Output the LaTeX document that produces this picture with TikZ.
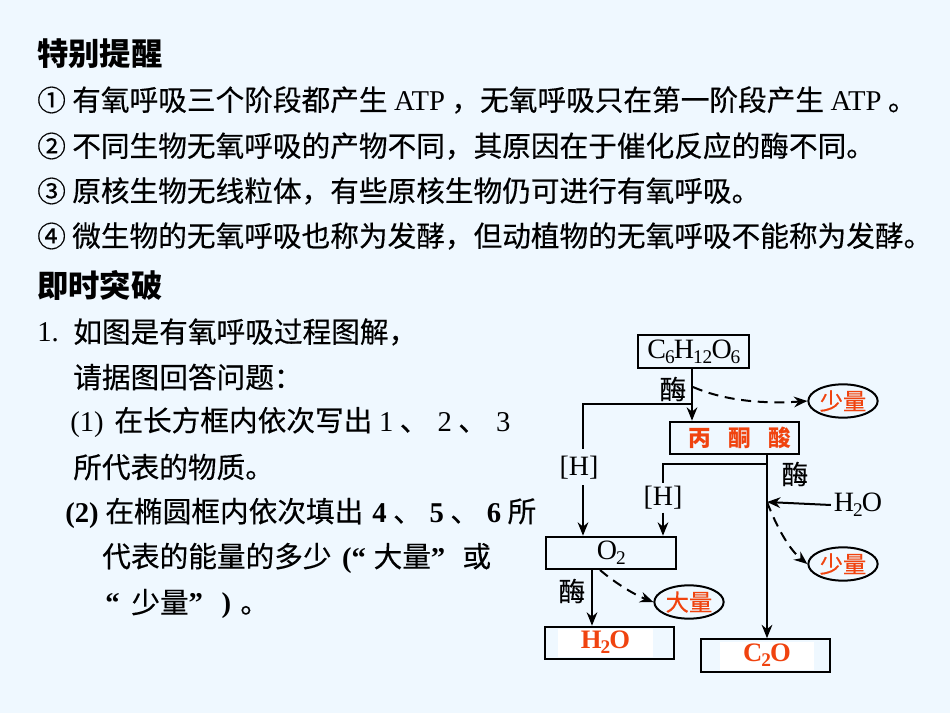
\documentclass[tikz,border=0pt]{standalone}
\usepackage{fontspec}
\usepackage{xcolor}
\setmainfont{Noto Sans CJK SC}
\newfontfamily\cjkbody[FakeBold=0.35]{Noto Sans CJK SC}
\newfontfamily\lat{Liberation Serif}
\usetikzlibrary{shapes,arrows,positioning,calc,arrows.meta}
\definecolor{bgblue}{HTML}{EFF8FF}
\definecolor{redorange}{HTML}{F0430F}
\newcommand{\lowidx}[1]{\kern-0.8pt\raisebox{-4pt}{\fontsize{14.5}{16}\selectfont #1}\kern-0.6pt}
\tikzset{
    headline/.style={anchor=west,inner sep=0pt,font=\fontsize{23.5}{28}\selectfont\bfseries},
    bodyline/.style={anchor=west,inner sep=0pt,font=\cjkbody\fontsize{21.5}{26}\selectfont},
    chembox/.style={draw,line width=1.5pt,minimum width=#1,minimum height=24.5pt,inner sep=0pt,font=\lat\fontsize{21}{24}\selectfont},
    chembox/.default=97pt,
    answer/.style={text=redorange,font=\fontsize{17}{20}\selectfont\bfseries},
    formula/.style={text=redorange,fill=white,minimum width=71pt,minimum height=21pt,inner sep=0pt,font=\lat\bfseries\fontsize{20}{24}\selectfont},
    energy/.style={draw,ellipse,line width=1.5pt,minimum width=52pt,minimum height=25pt,inner sep=0pt,text=redorange,font=\cjkbody\fontsize{17.5}{20}\selectfont},
    enzyme/.style={inner sep=0pt,font=\cjkbody\fontsize{20}{24}\selectfont},
    plain/.style={inner sep=2pt,font=\lat\fontsize{21}{24}\selectfont},
    flow/.style={line width=1.5pt,-{Stealth[length=10pt,width=8pt]}},
    link/.style={line width=1.5pt},
    release/.style={line width=1.5pt,dash pattern=on 7.5pt off 5pt,-{Stealth[length=10pt,width=8pt]}}
}
\begin{document}
\begin{tikzpicture}[x=0.75pt,y=-0.75pt]
    \useasboundingbox (0,0) rectangle (950,713);
    \fill[bgblue] (0,0) rectangle (950,713);

    % Reminder text
    \node[headline] (headA) at (37,54) {特别提醒};
    \node[bodyline] (noteA) at (37,100) {①};
    \node[bodyline] (lineA) at (72,100) {有氧呼吸三个阶段都产生 {\lat ATP} ，无氧呼吸只在第一阶段产生 {\lat ATP} 。};
    \node[bodyline] (noteB) at (37,146) {②};
    \node[bodyline] (lineB) at (72,146) {不同生物无氧呼吸的产物不同，其原因在于催化反应的酶不同。};
    \node[bodyline] (noteC) at (37,191) {③};
    \node[bodyline] (lineC) at (72,191) {原核生物无线粒体，有些原核生物仍可进行有氧呼吸。};
    \node[bodyline] (noteD) at (37,236) {④};
    \node[bodyline] (lineD) at (72,236) {微生物的无氧呼吸也称为发酵，但动植物的无氧呼吸不能称为发酵。};

    % Question text
    \node[headline] (headB) at (37,285) {即时突破};
    \node[bodyline] (numA) at (37,332) {\lat 1.};
    \node[bodyline] (textA) at (73,332) {如图是有氧呼吸过程图解，};
    \node[bodyline] (textB) at (73,377) {请据图回答问题：};
    \node[bodyline] (textC) at (70,422) {{\lat (1)}\hspace{8pt}在长方框内依次写出\hspace{5pt}{\lat 1} 、\hspace{2pt} {\lat 2} 、\hspace{2pt} {\lat 3}};
    \node[bodyline] (textD) at (73,467) {所代表的物质。};
    \node[bodyline] (textE) at (65,513) {{\lat\bfseries (2)}\hspace{5pt}在椭圆框内依次填出\hspace{2pt} {\lat\bfseries 4} 、\hspace{1pt} {\lat\bfseries 5} 、\hspace{1pt} {\lat\bfseries 6} 所};
    \node[bodyline] (textF) at (102,558) {代表的能量的多少\hspace{3pt} {\lat\bfseries (“}\hspace{1pt} 大量{\lat\bfseries ”}\hspace{8pt} 或};
    \node[bodyline] (textG) at (105,604) {{\lat\bfseries “}\hspace{4pt} 少量{\lat\bfseries ”}\hspace{14pt}{\lat\bfseries )}\hspace{2pt} 。};

    % Boxes
    \node[chembox=83pt] (glucose) at (693.5,351.5) {C\lowidx{6}H\lowidx{12}O\lowidx{6}};
    \node[chembox] (pyruvate) at (734.5,438) {};
    \node[answer] (pyruvatetxt) at (740,438) {丙\hspace{13pt}酮\hspace{13pt}酸};
    \node[chembox] (oxygen) at (611,553) {O\lowidx{2}};
    \node[chembox] (waterbox) at (609.5,643) {};
    \node[formula] (watertxt) at (605.5,642.5) {H\lowidx{2}O};
    \node[chembox] (cotwobox) at (765.5,655.5) {};
    \node[formula] (cotwotxt) at (767,655.5) {C\lowidx{2}O};

    % Ellipses
    \node[energy] (smallA) at (843,401) {少量};
    \node[energy] (smallB) at (843,564) {少量};
    \node[energy] (largeA) at (689,602) {大量};

    % Labels
    \node[enzyme] (enzA) at (673,389) {酶};
    \node[enzyme] (enzB) at (795,474) {酶};
    \node[enzyme] (enzC) at (572,591) {酶};
    \node[plain] (hydA) at (579,468) {[H]};
    \node[plain] (hydB) at (663,498) {[H]};
    \node[plain] (waterin) at (858,505) {H\lowidx{2}O};

    % Junctions
    \coordinate (glucoseout) at (692,368);
    \coordinate (topjoin) at (692,404);
    \coordinate (topdash) at (693,387);
    \coordinate (pyruvateout) at (767,454);
    \coordinate (midjoin) at (767,464);
    \coordinate (midwater) at (767,502);
    \coordinate (hydAup) at (583,449);
    \coordinate (hydAdown) at (583,485);
    \coordinate (oxygenout) at (592,569);
    \coordinate (oxygendash) at (600,570);

    % Solid connectors
    \draw[flow] (glucoseout) -- (glucoseout |- pyruvate.north);
    \draw[link] (topjoin) -| (hydAup);
    \draw[flow] (hydAdown) -- (hydAdown |- oxygen.north);
    \draw[link] (midjoin) -| (hydB.north);
    \draw[flow] (hydB.south) -- (hydB.south |- oxygen.north);
    \draw[flow] (pyruvateout) -- (pyruvateout |- cotwobox.north);
    \draw[flow] (waterin.west) -- (midwater);
    \draw[flow] (oxygenout) -- (oxygenout |- waterbox.north);

    % Dashed connectors
    \draw[release] (topdash) .. controls (725,401) and (765,404) .. (smallA.west);
    \draw[release] (midwater) .. controls (778,530) and (790,550) .. (smallB.west);
    \draw[release] (oxygendash) .. controls (615,583) and (635,595) .. (largeA.west);
\end{tikzpicture}
\end{document}
